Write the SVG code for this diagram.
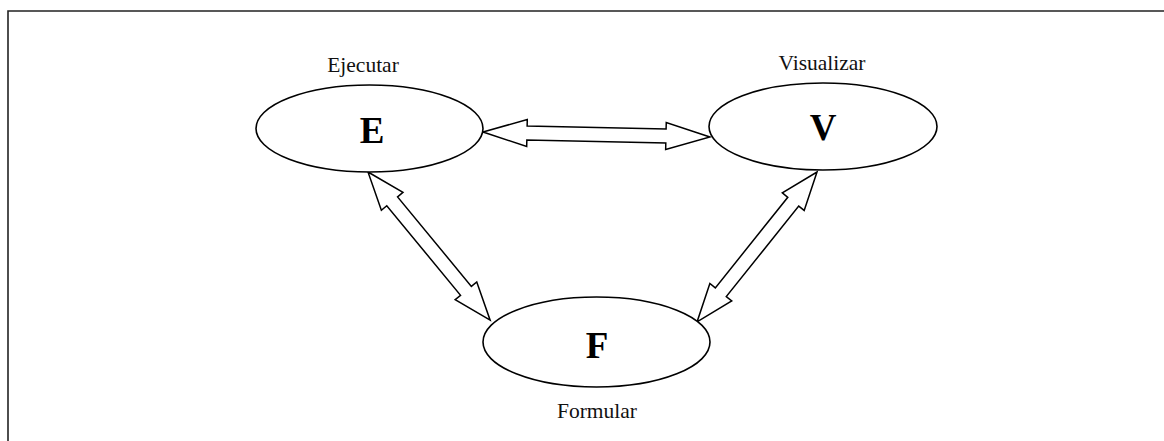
<svg xmlns="http://www.w3.org/2000/svg" width="1164" height="441" viewBox="0 0 1164 441">
<style>
.node ellipse{fill:#fff;stroke:#000;stroke-width:1.6}
.lbl{font-family:"Liberation Serif","Times New Roman",serif;font-size:21.5px;fill:#111;text-anchor:middle}
.big{font-family:"Liberation Serif","Times New Roman",serif;font-size:37px;font-weight:bold;fill:#000;text-anchor:middle}
.arr{fill:#fff;stroke:#000;stroke-width:1.5;stroke-linejoin:miter}
</style>
<rect width="1164" height="441" fill="#fff"/>
<path d="M8,441 V11 H1164" fill="none" stroke="#222" stroke-width="1.6"/>
<g id="connectors">
<path class="arr" transform="translate(483,132) rotate(1.26)" d="M0,0 L44,-13.5 L44,-7 L183,-7 L183,-13.5 L227,0 L183,13.5 L183,7 L44,7 L44,13.5 Z"/>
<path class="arr" transform="translate(368,172) rotate(50.5)" d="M0,0 L38,-14 L38,-7 L154,-7 L154,-14 L192,0 L154,14 L154,7 L38,7 L38,14 Z"/>
<path class="arr" transform="translate(817,172) rotate(128.66)" d="M0,0 L38,-14 L38,-7 L154,-7 L154,-14 L192,0 L154,14 L154,7 L38,7 L38,14 Z"/>
</g>
<g id="node-E" class="node">
<ellipse cx="369.5" cy="128.5" rx="113.5" ry="43.5"/>
<text class="big" x="372" y="143">E</text>
<text class="lbl" x="363" y="72">Ejecutar</text>
</g>
<g id="node-V" class="node">
<ellipse cx="823" cy="126.5" rx="114" ry="43.5"/>
<text class="big" x="823" y="140">V</text>
<text class="lbl" x="822" y="70">Visualizar</text>
</g>
<g id="node-F" class="node">
<ellipse cx="596.5" cy="342" rx="113.5" ry="45"/>
<text class="big" x="597" y="358">F</text>
<text class="lbl" x="597" y="418">Formular</text>
</g>
</svg>
